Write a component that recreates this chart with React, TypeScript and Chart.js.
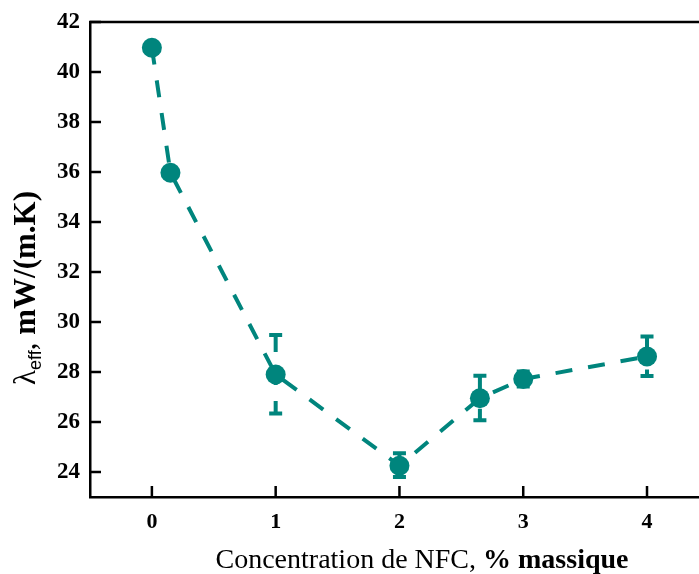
import React, { useEffect, useRef } from "react";
import { Chart, registerables } from "chart.js";

Chart.register(...registerables);

const concentrations = [0, 0.15, 1, 2, 2.65, 3, 4];
const lambdaEff = [40.97, 35.97, 27.9, 24.25, 26.95, 27.72, 28.62];
const errUp = [0, 0, 1.58, 0.5, 0.9, 0.3, 0.8];
const errDown = [0, 0, 1.56, 0.45, 0.88, 0.3, 0.78];
const xTicks = [0, 1, 2, 3, 4];
const yTicks = [24, 26, 28, 30, 32, 34, 36, 38, 40, 42];

const TEAL = "#00857D";
const SERIF = "'Liberation Serif', 'Times New Roman', serif";
const SANS = "'Liberation Sans', Arial, sans-serif";
const DASH = [17, 16];

const decorPlugin = {
  id: "decor",
  beforeDatasetsDraw(chart: any) {
    const ctx = chart.ctx;
    const xs = chart.scales.x;
    const ys = chart.scales.y;
    ctx.save();
    ctx.strokeStyle = TEAL;
    ctx.lineWidth = 4;
    ctx.lineCap = "butt";
    concentrations.forEach((c, i) => {
      if (errUp[i] <= 0 && errDown[i] <= 0) return;
      const px = xs.getPixelForValue(c);
      const top = ys.getPixelForValue(lambdaEff[i] + errUp[i]);
      const bot = ys.getPixelForValue(lambdaEff[i] - errDown[i]);
      ctx.setLineDash(DASH);
      ctx.beginPath();
      ctx.moveTo(px, top);
      ctx.lineTo(px, bot);
      ctx.stroke();
      ctx.setLineDash([]);
      ctx.beginPath();
      ctx.moveTo(px - 6.5, top);
      ctx.lineTo(px + 6.5, top);
      ctx.moveTo(px - 6.5, bot);
      ctx.lineTo(px + 6.5, bot);
      ctx.stroke();
    });
    ctx.restore();
  },
  afterDraw(chart: any) {
    const ctx = chart.ctx;
    const xs = chart.scales.x;
    const ys = chart.scales.y;
    const a = chart.chartArea;
    ctx.save();
    ctx.strokeStyle = "#000";
    ctx.lineWidth = 2.5;
    // top border
    ctx.beginPath();
    ctx.moveTo(a.left - 1, a.top);
    ctx.lineTo(a.right, a.top);
    ctx.stroke();
    // inward ticks
    ctx.beginPath();
    yTicks.forEach((t) => {
      const py = ys.getPixelForValue(t);
      ctx.moveTo(a.left, py);
      ctx.lineTo(a.left + 11, py);
    });
    xTicks.forEach((t) => {
      const px = xs.getPixelForValue(t);
      ctx.moveTo(px, a.bottom);
      ctx.lineTo(px, a.bottom - 11);
    });
    ctx.stroke();

    // x title
    ctx.fillStyle = "#000";
    ctx.textBaseline = "alphabetic";
    ctx.textAlign = "left";
    const reg = "Concentration de NFC, ";
    const bold = "% massique";
    ctx.font = `28px ${SERIF}`;
    const w1 = ctx.measureText(reg).width;
    ctx.font = `bold 28px ${SERIF}`;
    const w2 = ctx.measureText(bold).width;
    const x0 = 422 - (w1 + w2) / 2;
    ctx.font = `28px ${SERIF}`;
    ctx.fillText(reg, x0, 568);
    ctx.font = `bold 28px ${SERIF}`;
    ctx.fillText(bold, x0 + w1, 568);

    // y title
    ctx.translate(35, 288);
    ctx.rotate(-Math.PI / 2);
    const lam = "λ";
    const sub = "eff";
    const comma = ", ";
    const unit = "mW/(m.K)";
    ctx.font = `31px ${SERIF}`;
    const wl = ctx.measureText(lam).width;
    const wc = ctx.measureText(comma).width;
    ctx.font = `18px ${SANS}`;
    const ws = ctx.measureText(sub).width;
    ctx.font = `bold 31px ${SERIF}`;
    const wu = ctx.measureText(unit).width;
    let p = -(wl + ws + wc + wu) / 2;
    ctx.font = `31px ${SERIF}`;
    ctx.fillText(lam, p, 0);
    p += wl;
    ctx.font = `18px ${SANS}`;
    ctx.fillText(sub, p, 6);
    p += ws;
    ctx.font = `31px ${SERIF}`;
    ctx.fillText(comma, p, 0);
    p += wc;
    ctx.font = `bold 31px ${SERIF}`;
    ctx.fillText(unit, p, 0);
    ctx.restore();
  },
};

export default function App() {
  const ref = useRef<HTMLCanvasElement>(null);
  useEffect(() => {
    document.body.style.margin = "0";
    document.body.style.overflow = "hidden";
    const chart = new Chart(ref.current as HTMLCanvasElement, {
      type: "line",
      data: {
        datasets: [
          {
            data: concentrations.map((c, i) => ({ x: c, y: lambdaEff[i] })),
            borderColor: TEAL,
            backgroundColor: TEAL,
            borderWidth: 4,
            borderDash: DASH,
            pointRadius: 10,
            pointBackgroundColor: TEAL,
            pointBorderWidth: 0,
            tension: 0,
          },
        ],
      },
      options: {
        responsive: false,
        animation: false,
        layout: { autoPadding: false, padding: { top: 22, right: 0, left: 0, bottom: 0 } },
        plugins: { legend: { display: false }, tooltip: { enabled: false } },
        scales: {
          x: {
            type: "linear",
            min: -0.5,
            max: 4.42,
            afterFit: (s: any) => {
              s.height = 77;
              s.paddingLeft = 0;
              s.paddingRight = 0;
            },
            afterBuildTicks: (s: any) => {
              s.ticks = xTicks.map((v) => ({ value: v }));
            },
            grid: { display: false, drawTicks: false, tickLength: 0 },
            border: { display: true, color: "#000", width: 2.5 },
            ticks: {
              color: "#000",
              padding: 12,
              font: { family: SERIF, size: 22, weight: "bold" },
            },
          },
          y: {
            type: "linear",
            min: 23,
            max: 42,
            afterFit: (s: any) => {
              s.width = 90;
              s.paddingTop = 0;
              s.paddingBottom = 0;
            },
            afterBuildTicks: (s: any) => {
              s.ticks = yTicks.map((v) => ({ value: v }));
            },
            grid: { display: false, drawTicks: false, tickLength: 0 },
            border: { display: true, color: "#000", width: 2.5 },
            ticks: {
              color: "#000",
              padding: 10,
              font: { family: SERIF, size: 23, weight: "bold" },
            },
          },
        },
      },
      plugins: [decorPlugin],
    } as any);
    return () => chart.destroy();
  }, []);
  return <canvas ref={ref} width={699} height={574} style={{ display: "block" }} />;
}
